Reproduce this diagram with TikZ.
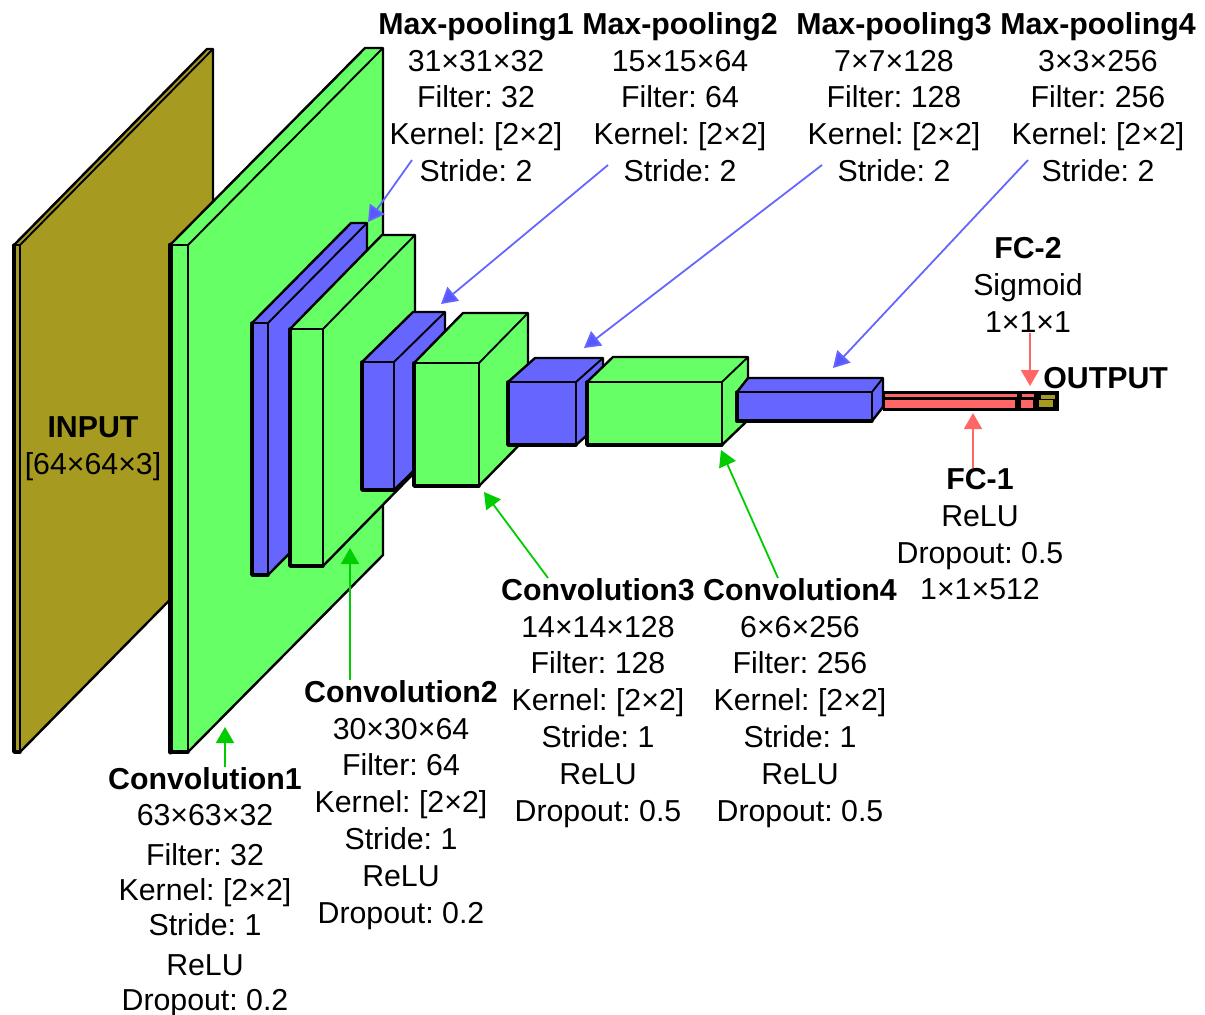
\documentclass[tikz,border=0pt]{standalone}
\usepackage{fontspec}
\setmainfont{Liberation Sans}
\usetikzlibrary{arrows.meta}
\frenchspacing

\definecolor{inputcol}{HTML}{A69B20}
\definecolor{convcol}{HTML}{66FF66}
\definecolor{poolcol}{HTML}{6666FF}
\definecolor{fccol}{HTML}{FF6666}

% name, front face x1 y1 x2 y2, depth dx dy, fill
\newcommand{\cuboid}[8]{
  \fill[#8] (#2,#3) -- ++(#6,-#7) -- (#4+#6,#3-#7) -- (#4+#6,#5-#7) -- (#4,#5) -- (#2,#5) -- cycle;
  \draw[inner] (#2,#3) -- (#4,#3) -- (#4,#5);
  \draw[inner] (#4,#3) -- (#4+#6,#3-#7);
  \draw[box] (#2,#3) -- ++(#6,-#7) -- (#4+#6,#3-#7) -- (#4+#6,#5-#7) -- (#4,#5) -- (#2,#5) -- cycle;
  \draw[edge] (#2,#3) -- (#2,#5) -- (#4,#5);
  \coordinate (#1) at (#2,#3);
}

\begin{document}
\begin{tikzpicture}[
    x=0.5pt, y=-0.5pt,
    box/.style={draw=black, line width=1.2pt, line join=round},
    inner/.style={draw=black, line width=0.95pt, line join=round},
    edge/.style={draw=black, line width=1.7pt, line cap=round, line join=round},
    lbl/.style={anchor=north, inner sep=0pt, align=center,
                font=\fontsize{15.15}{18.4}\selectfont},
    poolarrow/.style={-{Triangle[length=8pt,width=9pt,fill=poolcol!85!blue]}, draw=poolcol, line width=0.9pt},
    convarrow/.style={-{Triangle[length=8pt,width=9pt]}, draw=green!80!black, line width=0.9pt},
    fcarrow/.style={-{Triangle[length=8pt,width=9pt]}, draw=fccol, line width=0.9pt}
]
\useasboundingbox (0,0) rectangle (1205,1014);

\cuboid{input}{14}{245}{20}{752}{193}{196}{inputcol}
\cuboid{conv1}{170}{245}{188}{752}{195}{197}{convcol}
\draw[edge, line width=2.5pt] (170.5,245) -- (170.5,752);
\cuboid{pool1}{252}{323}{268}{575}{99}{100}{poolcol}
\cuboid{conv2}{290}{329}{323}{566}{92}{94}{convcol}
\cuboid{pool2}{362}{362}{394}{490}{51}{50}{poolcol}
\cuboid{conv3}{414}{363}{479}{486}{49}{50}{convcol}
\cuboid{pool3}{508}{382}{576}{445}{27}{24}{poolcol}
\cuboid{conv4}{587}{382}{722}{445}{26}{25}{convcol}
\cuboid{pool4}{737}{392}{872}{421}{11}{14}{poolcol}

% the thin end of the net
\fill[black] (883,391) rectangle (1059,411);
\fill[fccol] (885,393.5) rectangle (1017,396.5);
\fill[fccol] (885,400) rectangle (1015,407.5);
\fill[fccol] (1022,394) rectangle (1034,396.5);
\fill[fccol] (1021,400) rectangle (1033,407.5);
\fill[inputcol] (1041,394.5) rectangle (1055,398.5);
\fill[inputcol] (1039,400) rectangle (1053,407);

\node[lbl] (inputlbl) at (93,416) {\textbf{INPUT}\\{}[64×64×3]};
\node[lbl] (pool1lbl) at (476,12) {\textbf{Max-pooling1}\\31×31×32\\Filter: 32\\Kernel: [2×2]\\Stride: 2};
\node[lbl] (pool2lbl) at (680,12) {\textbf{Max-pooling2}\\15×15×64\\Filter: 64\\Kernel: [2×2]\\Stride: 2};
\node[lbl] (pool3lbl) at (894,12) {\textbf{Max-pooling3}\\7×7×128\\Filter: 128\\Kernel: [2×2]\\Stride: 2};
\node[lbl] (pool4lbl) at (1098,12) {\textbf{Max-pooling4}\\3×3×256\\Filter: 256\\Kernel: [2×2]\\Stride: 2};
\node[lbl] (conv1lbl) at (205,767) {\textbf{Convolution1}\\[-0.2pt]63×63×32\\[1.5pt]Filter: 32\\[-0.9pt]Kernel: [2×2]\\[-0.9pt]Stride: 1\\[1.5pt]ReLU\\[-0.9pt]Dropout: 0.2};
\node[lbl] (conv2lbl) at (401,680) {\textbf{Convolution2}\\30×30×64\\Filter: 64\\Kernel: [2×2]\\Stride: 1\\ReLU\\Dropout: 0.2};
\node[lbl] (conv3lbl) at (598,578) {\textbf{Convolution3}\\14×14×128\\Filter: 128\\Kernel: [2×2]\\Stride: 1\\ReLU\\Dropout: 0.5};
\node[lbl] (conv4lbl) at (800,578) {\textbf{Convolution4}\\6×6×256\\Filter: 256\\Kernel: [2×2]\\Stride: 1\\ReLU\\Dropout: 0.5};
\node[lbl] (fc1lbl) at (980,468) {\textbf{FC-1}\\ReLU\\Dropout: 0.5\\1×1×512};
\node[lbl] (fc2lbl) at (1028,237) {\textbf{FC-2}\\Sigmoid\\1×1×1};
\node[lbl, anchor=north west] (outputlbl) at (1043,367) {\textbf{OUTPUT}};

\coordinate (pool1from) at (412,160);
\coordinate (pool1to) at (368,222);
\coordinate (pool2from) at (608,165);
\coordinate (pool2to) at (441,304);
\coordinate (pool3from) at (822,165);
\coordinate (pool3to) at (584,348);
\coordinate (pool4from) at (1028,160);
\coordinate (pool4to) at (833,368);
\coordinate (conv2to) at (350,548);
\coordinate (conv3to) at (484,492);
\coordinate (conv4to) at (721,450);
\coordinate (conv1to) at (225,727);
\coordinate (fc1to) at (973,413);
\coordinate (fc2to) at (1030,386);

\draw[poolarrow] (pool1from) -- (pool1to);
\draw[poolarrow] (pool2from) -- (pool2to);
\draw[poolarrow] (pool3from) -- (pool3to);
\draw[poolarrow] (pool4from) -- (pool4to);
\draw[convarrow] (conv1lbl.north -| conv1to) -- (conv1to);
\draw[convarrow] (conv2lbl.north -| conv2to) -- (conv2to);
\draw[convarrow] (conv3lbl.north -| 548,0) -- (conv3to);
\draw[convarrow] (conv4lbl.north -| 778,0) -- (conv4to);
\draw[fcarrow] (fc1lbl.north -| fc1to) -- (fc1to);
\draw[fcarrow] (fc2lbl.south -| fc2to) -- (fc2to);

\end{tikzpicture}
\end{document}
